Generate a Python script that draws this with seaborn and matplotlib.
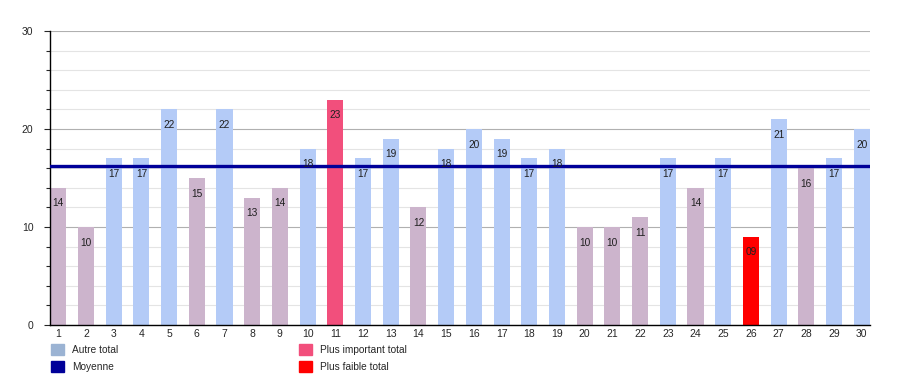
import matplotlib
matplotlib.use("Agg")
import matplotlib.pyplot as plt
from matplotlib.patches import Patch
from matplotlib.ticker import MultipleLocator
import seaborn as sns
import pandas as pd
import numpy as np

days = [str(i) for i in range(1, 31)]
totals = [14, 10, 17, 17, 22, 15, 22, 13, 14, 18, 23, 17, 19, 12, 18,
          20, 19, 17, 18, 10, 10, 11, 17, 14, 17, 9, 21, 16, 17, 20]
labels = ["14", "10", "17", "17", "22", "15", "22", "13", "14", "18",
          "23", "17", "19", "12", "18", "20", "19", "17", "18", "10",
          "10", "11", "17", "14", "17", "09", "21", "16", "17", "20"]

c_above = "#b4cbf7"
c_below = "#ccb4cc"
c_max = "#f24f7c"
c_min = "#ff0000"
c_mean = "#000099"
c_legend_other = "#9bb3d3"

mean = np.mean(totals)
colors = []
for v in totals:
    if v == max(totals):
        colors.append(c_max)
    elif v == min(totals):
        colors.append(c_min)
    elif v >= mean:
        colors.append(c_above)
    else:
        colors.append(c_below)

df = pd.DataFrame({"day": days, "total": totals})

sns.set_style("white")
plt.rcParams["font.family"] = ["Liberation Sans", "DejaVu Sans"]

fig = plt.figure(figsize=(9, 3.75), dpi=100)
ax = fig.add_axes([50 / 900, 50 / 375, 820 / 900, 294 / 375])

sns.barplot(data=df, x="day", y="total", hue="day", palette=colors,
            legend=False, width=0.58, saturation=1, ax=ax)
for p in ax.patches:
    p.set_zorder(2)
    p.set_linewidth(0)

ax.axhline(mean, color=c_mean, lw=2.4, zorder=3)

for i, (v, lab) in enumerate(zip(totals, labels)):
    ax.text(i, v - 1.6, lab, ha="center", va="center", fontsize=7.3,
            color="#202020", zorder=4)

ax.set_ylim(0, 30)
ax.set_xlim(-0.3, 29.3)
ax.yaxis.set_major_locator(MultipleLocator(10))
ax.yaxis.set_minor_locator(MultipleLocator(2))
ax.set_axisbelow(True)
ax.grid(axis="y", which="major", color="#b0b0b0", lw=0.8)
ax.grid(axis="y", which="minor", color="#e4e4e4", lw=0.8)

for s in ["top", "right"]:
    ax.spines[s].set_visible(False)
ax.spines["left"].set_color("black")
ax.spines["bottom"].set_color("black")
ax.spines["left"].set_linewidth(1)
ax.spines["bottom"].set_linewidth(1)

ax.tick_params(axis="y", which="major", length=4, width=0.8, labelsize=7.5, pad=8, left=True)
ax.tick_params(axis="y", which="minor", length=3, width=0.8, left=True)
ax.tick_params(axis="x", length=0, labelsize=7.5, pad=3)
ax.set_xlabel("")
ax.set_ylabel("")

handles = [Patch(color=c_legend_other, label="Autre total"),
           Patch(color=c_mean, label="Moyenne"),
           Patch(color=c_max, label="Plus important total"),
           Patch(color=c_min, label="Plus faible total")]
fig.legend(handles=handles, ncol=2, loc="upper left",
           bbox_to_anchor=(44 / 900, 1 - 337 / 375), frameon=False,
           fontsize=7.3, handlelength=1.3, handleheight=1.3, handletextpad=0.8,
           columnspacing=17.8, labelspacing=0.55, borderpad=0.2)

fig.savefig("out.png", dpi=100)
